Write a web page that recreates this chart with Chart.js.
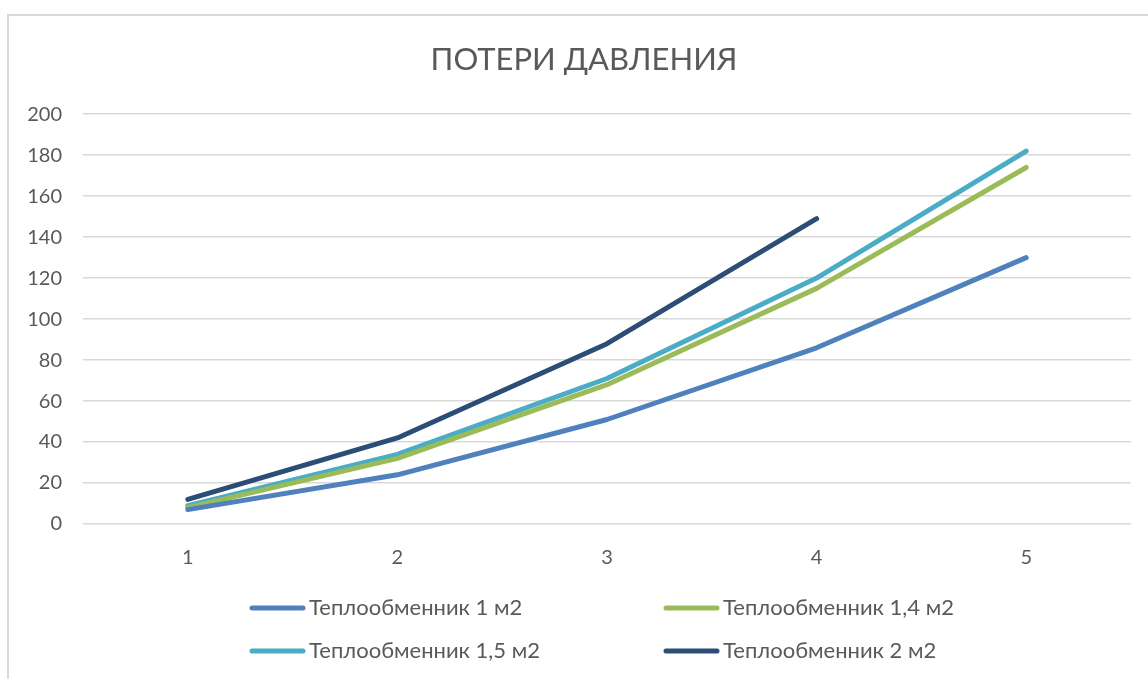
<!DOCTYPE html>
<html>
<head>
<meta charset="utf-8">
<script src="https://cdn.jsdelivr.net/npm/chart.js@4.4.1/dist/chart.umd.min.js"></script>
<style>
  html, body { margin: 0; padding: 0; background: #ffffff; }
  #wrap { position: relative; width: 1148px; height: 679px; overflow: hidden; }
  #frame { position: absolute; left: 7px; top: 14px; width: 1200px; height: 700px;
           border-top: 2px solid #d9d9d9; border-left: 2px solid #d9d9d9; }
  canvas { position: absolute; left: 0; top: 0; }
</style>
</head>
<body>
<div id="wrap">
  <div id="frame"></div>
  <canvas id="c" width="1148" height="679"></canvas>
</div>
<script>
const categories = ['1', '2', '3', '4', '5'];
const seriesNames = ['Теплообменник 1 м2', 'Теплообменник 1,4 м2', 'Теплообменник 1,5 м2', 'Теплообменник 2 м2'];
const s1 = [7, 24, 51, 86, 130];
const s14 = [8, 32, 68, 115, 174];
const s15 = [9, 34, 71, 120, 182];
const s2 = [12, 42, 88, 149, null];
const yTicks = [0, 20, 40, 60, 80, 100, 120, 140, 160, 180, 200];
const colors = ['#4f81bd', '#9bbb59', '#4bacc6', '#2c4d75'];
const titleText = 'ПОТЕРИ ДАВЛЕНИЯ';

const FONT = 'Lato, "Open Sans", sans-serif';
const TEXT = '#595959';

const gridLegend = {
  id: 'gridLegend',
  afterDraw(chart) {
    const ctx = chart.ctx;
    const cols = [250, 664];
    const rows = [608, 651];
    ctx.save();
    ctx.font = '22px ' + FONT;
    ctx.textBaseline = 'middle';
    ctx.textAlign = 'left';
    chart.data.datasets.forEach((ds, i) => {
      const x = cols[i % 2];
      const y = rows[Math.floor(i / 2)];
      ctx.strokeStyle = ds.borderColor;
      ctx.lineWidth = 5;
      ctx.lineCap = 'round';
      ctx.beginPath();
      ctx.moveTo(x + 2, y);
      ctx.lineTo(x + 53, y);
      ctx.stroke();
      ctx.fillStyle = TEXT;
      ctx.fillText(ds.label, x + 59, y);
    });
    ctx.restore();
  }
};

const data = {
  labels: categories,
  datasets: [s1, s14, s15, s2].map((vals, i) => ({
    label: seriesNames[i],
    data: vals,
    borderColor: colors[i],
    backgroundColor: colors[i],
    borderWidth: 5,
    borderCapStyle: 'round',
    borderJoinStyle: 'round',
    pointRadius: 0,
    pointHoverRadius: 0,
    tension: 0,
    fill: false,
    spanGaps: false
  }))
};

new Chart(document.getElementById('c'), {
  type: 'line',
  data: data,
  plugins: [gridLegend],
  options: {
    responsive: false,
    animation: false,
    devicePixelRatio: 1,
    layout: { padding: { left: 37, right: 17, top: 0, bottom: 87 } },
    plugins: {
      legend: { display: false },
      tooltip: { enabled: false },
      title: {
        display: true,
        text: titleText,
        color: TEXT,
        font: { family: FONT, size: 31, weight: 'normal' },
        padding: { top: 41, bottom: 36 }
      }
    },
    scales: {
      x: {
        offset: true,
        grid: { display: false, drawTicks: false },
        border: { display: false },
        ticks: { color: TEXT, font: { family: FONT, size: 20 }, padding: 22 }
      },
      y: {
        min: 0,
        max: 200,
        afterBuildTicks(scale) { scale.ticks = yTicks.map(v => ({ value: v })); },
        afterFit(scale) {
          scale.width = 46;
          scale._computeLabelArea = () => undefined;
        },
        grid: { color: '#d9d9d9', lineWidth: 1.5, drawTicks: false },
        border: { display: false },
        ticks: { color: TEXT, font: { family: FONT, size: 20 }, padding: 21 }
      }
    }
  }
});
</script>
</body>
</html>
